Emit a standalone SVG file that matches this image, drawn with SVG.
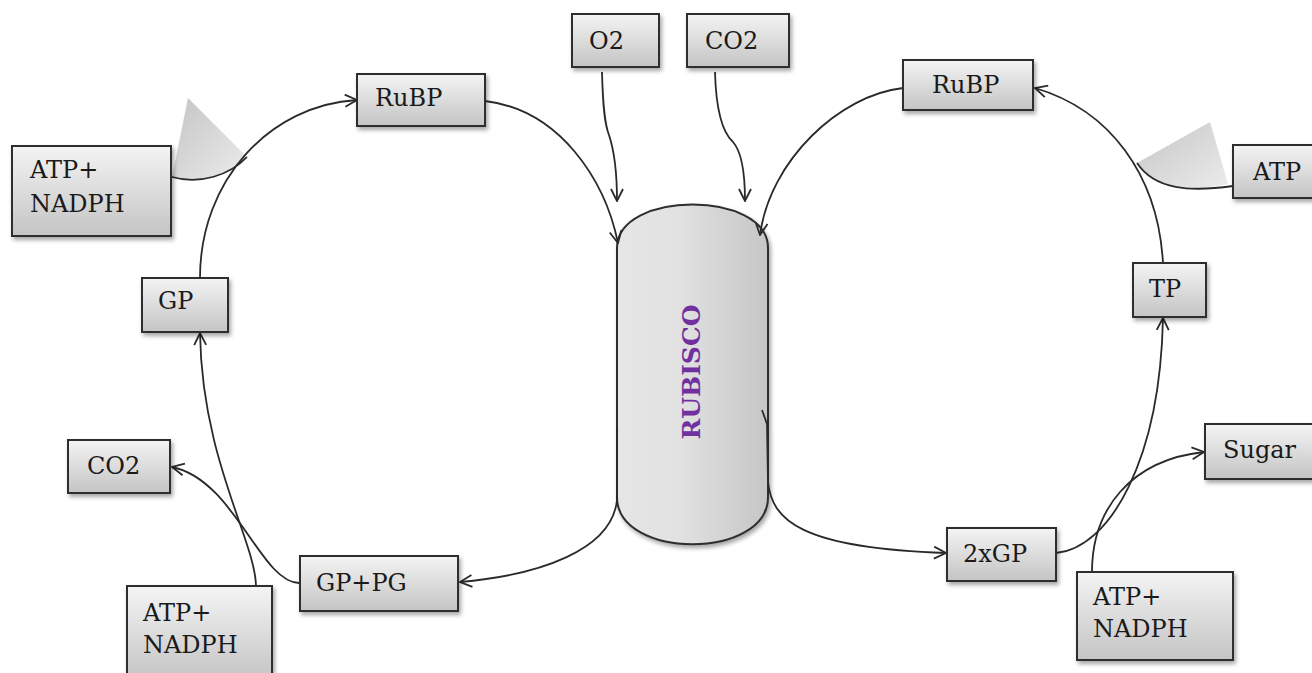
<svg xmlns="http://www.w3.org/2000/svg" width="1312" height="673" viewBox="0 0 1312 673">
  <defs>
    <linearGradient id="boxFill" x1="0" y1="0" x2="0" y2="1">
      <stop offset="0" stop-color="#f4f4f4"/>
      <stop offset="1" stop-color="#c4c4c4"/>
    </linearGradient>
    <linearGradient id="capsuleFill" x1="0" y1="0" x2="1" y2="0">
      <stop offset="0" stop-color="#e6e6e6"/>
      <stop offset="0.4" stop-color="#e2e2e2"/>
      <stop offset="1" stop-color="#c6c6c6"/>
    </linearGradient>
    <linearGradient id="wedgeFill" x1="0" y1="0" x2="1" y2="1">
      <stop offset="0" stop-color="#c4c4c4"/>
      <stop offset="1" stop-color="#ececec"/>
    </linearGradient>
    <filter id="shadow" x="-10%" y="-10%" width="130%" height="140%">
      <feDropShadow dx="2" dy="3" stdDeviation="2" flood-color="#000" flood-opacity="0.35"/>
    </filter>
    <marker id="arrow" viewBox="0 0 14 14" refX="13" refY="7" markerWidth="14" markerHeight="14" markerUnits="userSpaceOnUse" orient="auto">
      <path d="M1,1 L13,7 L1,13" fill="none" stroke="#2a2a2a" stroke-width="1.8" stroke-linejoin="miter"/>
    </marker>
  </defs>
  <style>
    .box { fill: url(#boxFill); stroke: #2e2e2e; stroke-width: 2; filter: url(#shadow); }
    .lbl { font-family: "DejaVu Serif", "Liberation Serif", serif; font-size: 24px; fill: #1a1a1a; }
    .link { fill: none; stroke: #2a2a2a; stroke-width: 1.8; }
    .arr { marker-end: url(#arrow); }
    .wedge { fill: url(#wedgeFill); stroke: none; }
  </style>

  <rect width="1312" height="673" fill="#ffffff"/>

  <!-- enzyme -->
  <g id="rubisco">
    <path d="M617,248 C617,190 768,190 768,248 L768,497 C768,560 617,560 617,497 Z" fill="url(#capsuleFill)" stroke="#2e2e2e" stroke-width="2" filter="url(#shadow)"/>
    <text transform="translate(700,372) rotate(-90)" text-anchor="middle" font-family="DejaVu Serif, Liberation Serif, serif" font-size="25" font-weight="bold" fill="#7030A0">RUBISCO</text>
  </g>

  <!-- energy input wedges -->
  <g id="wedge-left">
    <path class="wedge" d="M188,98 L247,157 C230,175 200,185 172,177 Z"/>
  </g>
  <g id="wedge-right">
    <path class="wedge" d="M1137,163 L1210,122 L1228,184 C1195,191 1155,190 1137,163 Z"/>
  </g>

  <!-- connectors -->
  <g id="connectors">
    <path class="link arr" d="M485,101 C560,110 605,180 618,243"/>
    <path class="link arr" d="M602,72 C603,110 605,125 609,135 C614,150 617,175 617,201"/>
    <path class="link arr" d="M715,72 C716,110 722,132 733,142 C742,152 745,175 745,201"/>
    <path class="link arr" d="M903,88 C840,95 770,160 760,235"/>
    <path class="link arr" d="M1163,263 C1158,175 1110,110 1035,88"/>
    <path class="link" d="M1233,186 C1190,192 1155,190 1137,163"/>
    <path class="link arr" d="M1056,553 C1110,548 1160,460 1163,318"/>
    <path class="link arr" d="M1092,572 C1092,510 1130,460 1204,452"/>
    <path class="link arr" d="M762,410 L767,424 L768,482 C772,520 800,548 946,553"/>
    <path class="link arr" d="M617,428 L617,500 C612,550 540,575 460,582"/>
    <path class="link arr" d="M299,583 C260,582 235,480 172,467"/>
    <path class="link arr" d="M256,586 C255,540 202,460 200,333"/>
    <path class="link arr" d="M200,278 C200,180 270,105 357,100"/>
    <path class="link" d="M172,177 C200,185 230,175 247,157"/>
  </g>

  <!-- nodes -->
  <g id="rubp-left">
    <rect class="box" x="357" y="74" width="128" height="52"/>
    <text class="lbl" x="375" y="106">RuBP</text>
  </g>
  <g id="o2">
    <rect class="box" x="572" y="14" width="87" height="53"/>
    <text class="lbl" x="589" y="49">O2</text>
  </g>
  <g id="co2-top">
    <rect class="box" x="687" y="14" width="102" height="53"/>
    <text class="lbl" x="705" y="49">CO2</text>
  </g>
  <g id="rubp-right">
    <rect class="box" x="903" y="60" width="130" height="50"/>
    <text class="lbl" x="932" y="93">RuBP</text>
  </g>
  <g id="atp-nadph-left">
    <rect class="box" x="12" y="146" width="159" height="90"/>
    <text class="lbl" x="30" y="178">ATP+</text>
    <text class="lbl" x="30" y="212">NADPH</text>
  </g>
  <g id="atp-right">
    <rect class="box" x="1233" y="145" width="90" height="53"/>
    <text class="lbl" x="1253" y="180">ATP</text>
  </g>
  <g id="gp">
    <rect class="box" x="142" y="278" width="86" height="54"/>
    <text class="lbl" x="158" y="309">GP</text>
  </g>
  <g id="tp">
    <rect class="box" x="1133" y="263" width="73" height="54"/>
    <text class="lbl" x="1149" y="297">TP</text>
  </g>
  <g id="co2-left">
    <rect class="box" x="68" y="440" width="102" height="53"/>
    <text class="lbl" x="87" y="474">CO2</text>
  </g>
  <g id="gp-pg">
    <rect class="box" x="300" y="556" width="158" height="55"/>
    <text class="lbl" x="316" y="591">GP+PG</text>
  </g>
  <g id="atp-nadph-bottom-left">
    <rect class="box" x="127" y="586" width="145" height="95"/>
    <text class="lbl" x="143" y="621">ATP+</text>
    <text class="lbl" x="143" y="653">NADPH</text>
  </g>
  <g id="two-gp">
    <rect class="box" x="947" y="528" width="109" height="53"/>
    <text class="lbl" x="963" y="562">2xGP</text>
  </g>
  <g id="sugar">
    <rect class="box" x="1205" y="424" width="115" height="55"/>
    <text class="lbl" x="1223" y="458">Sugar</text>
  </g>
  <g id="atp-nadph-bottom-right">
    <rect class="box" x="1077" y="572" width="156" height="88"/>
    <text class="lbl" x="1093" y="605">ATP+</text>
    <text class="lbl" x="1093" y="637">NADPH</text>
  </g>
</svg>
